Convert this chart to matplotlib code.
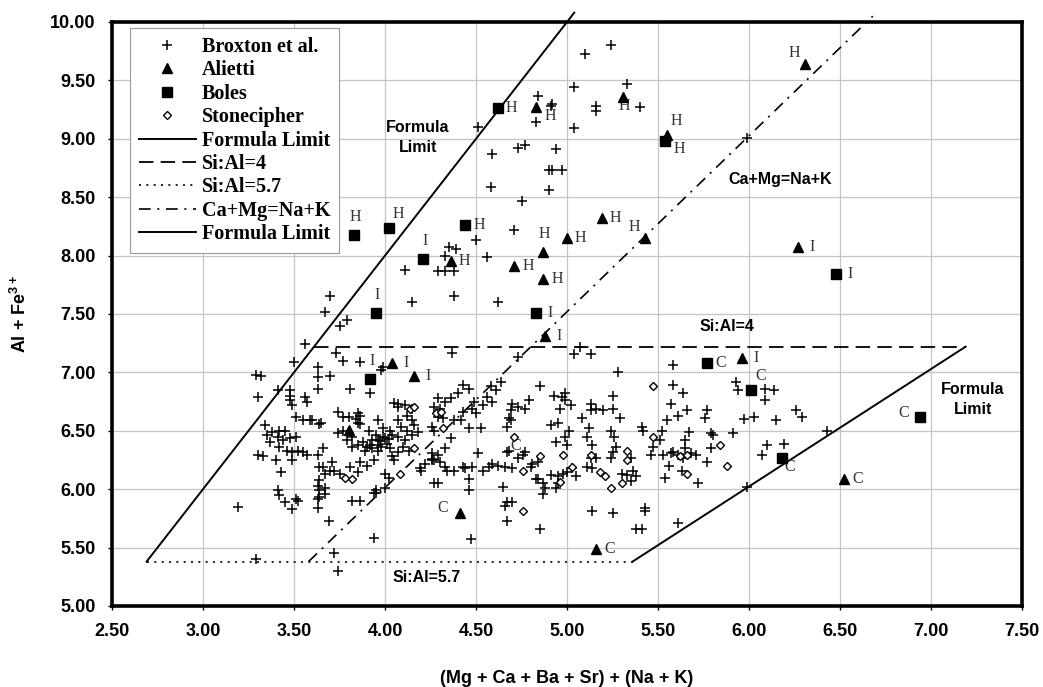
import matplotlib
matplotlib.use("Agg")
import matplotlib.pyplot as plt
from matplotlib.lines import Line2D

# ---- data ----
broxton = [
    # upper part
    (5.24, 9.80), (5.10, 9.73), (5.04, 9.44), (5.33, 9.47), (4.84, 9.37), (4.92, 9.30), (4.91, 9.28),
    (5.16, 9.28), (5.16, 9.24), (5.40, 9.27), (4.83, 9.14), (5.04, 9.09), (4.51, 9.10), (4.59, 8.87),
    (4.73, 8.92), (4.77, 8.95), (4.94, 8.91), (4.90, 8.73), (4.92, 8.73), (4.97, 8.73), (4.58, 8.59),
    (4.90, 8.56), (4.75, 8.47), (4.71, 8.22), (4.50, 8.13), (4.35, 8.07), (4.39, 8.06), (4.33, 8.00),
    (4.56, 7.99), (4.11, 7.88), (4.29, 7.87), (4.33, 7.87), (4.38, 7.87), (4.15, 7.60), (4.38, 7.65),
    (4.62, 7.60), (3.70, 7.65), (3.67, 7.52), (3.75, 7.40), (3.79, 7.45), (3.56, 7.24), (5.99, 9.01),
    # around Si:Al=4
    (3.73, 7.17), (3.77, 7.10), (3.86, 7.09), (3.50, 7.09), (3.29, 6.98), (3.32, 6.97), (3.30, 6.79),
    (3.63, 7.05), (3.63, 6.96), (3.70, 6.97), (3.63, 6.86), (3.81, 6.86), (3.92, 6.82), (3.41, 6.85),
    (3.48, 6.85), (3.48, 6.80), (3.48, 6.76), (3.49, 6.72), (3.56, 6.79), (3.57, 6.75), (3.98, 7.02),
    (3.99, 7.05), (4.37, 7.17), (4.73, 7.13), (5.07, 7.22), (5.04, 7.16), (5.13, 7.16), (5.28, 7.00),
    (5.58, 7.06), (4.85, 6.88),
    # left cluster
    (3.74, 6.66), (3.77, 6.62), (3.80, 6.62), (3.51, 6.62), (3.59, 6.59), (3.65, 6.57), (3.84, 6.60),
    (3.86, 6.63), (3.34, 6.55), (3.38, 6.49), (3.42, 6.50), (3.45, 6.50), (3.35, 6.46), (3.37, 6.40),
    (3.41, 6.45), (3.44, 6.42), (3.48, 6.44), (3.51, 6.45), (3.42, 6.36), (3.46, 6.33), (3.49, 6.32),
    (3.30, 6.29), (3.33, 6.28), (3.40, 6.25), (3.49, 6.25), (3.43, 6.15), (3.52, 6.33), (3.55, 6.32),
    (3.57, 6.29), (3.63, 6.29), (3.66, 6.35), (3.64, 6.19), (3.67, 6.13), (3.71, 6.23), (3.72, 6.16),
    (3.75, 6.13), (3.81, 6.19), (3.85, 6.15), (3.86, 6.23), (3.90, 6.20), (3.94, 6.25), (3.41, 5.99),
    (3.42, 5.95), (3.45, 5.89), (3.51, 5.92), (3.52, 5.90), (3.49, 5.83), (3.19, 5.85), (3.63, 6.03),
    (3.64, 5.99), (3.67, 5.96), (3.63, 5.92), (3.63, 5.84), (3.69, 5.73), (3.82, 5.90), (3.86, 5.90),
    (3.94, 5.97), (3.95, 5.99), (3.94, 5.58), (3.29, 5.40), (3.72, 5.45), (3.74, 5.30), (3.79, 6.42),
    (3.82, 6.36), (3.85, 6.38), (3.90, 6.36), (3.93, 6.42), (3.96, 6.38), (3.99, 6.45), (3.74, 6.48),
    (3.77, 6.50), (3.82, 6.45), (3.85, 6.65), (3.85, 6.57), (3.86, 6.56), (3.96, 6.59), (3.99, 6.52),
    (4.03, 6.50), (4.05, 6.74), (4.07, 6.70), (3.55, 6.59), (3.60, 6.59), (3.64, 6.56), (3.66, 6.19),
    (3.70, 6.16), (3.64, 6.08), (3.67, 6.01), (3.64, 5.93),
    # centre cluster
    (4.07, 6.73), (4.11, 6.72), (4.15, 6.69), (4.12, 6.63), (4.15, 6.59), (4.16, 6.55), (4.07, 6.59),
    (4.09, 6.53), (4.12, 6.50), (4.04, 6.46), (4.07, 6.45), (4.11, 6.42), (4.15, 6.46), (4.18, 6.49),
    (3.91, 6.50), (3.95, 6.46), (3.96, 6.42), (4.00, 6.44), (4.01, 6.39), (4.03, 6.35), (3.93, 6.35),
    (3.96, 6.33), (3.98, 6.36), (4.04, 6.28), (4.07, 6.32), (4.05, 6.25), (4.00, 6.13), (4.02, 6.10),
    (4.19, 6.18), (4.22, 6.22), (3.95, 5.97), (4.00, 6.01), (4.26, 6.31), (4.26, 6.25), (3.88, 6.40),
    (3.92, 6.38), (3.97, 6.41), (4.02, 6.43), (3.89, 6.33), (4.10, 6.36), (4.13, 6.33),
    (4.43, 6.89), (4.46, 6.86), (4.64, 6.92), (4.61, 6.85), (4.58, 6.88), (4.40, 6.82), (4.36, 6.78),
    (4.33, 6.75), (4.29, 6.78), (4.27, 6.70), (4.30, 6.69), (4.49, 6.75), (4.48, 6.69), (4.50, 6.65),
    (4.43, 6.66), (4.42, 6.59), (4.54, 6.72), (4.59, 6.75), (4.56, 6.79), (4.38, 6.59), (4.29, 6.62),
    (4.32, 6.61), (4.46, 6.52), (4.53, 6.52), (4.26, 6.53), (4.27, 6.50), (4.36, 6.44), (4.33, 6.35),
    (4.29, 6.29), (4.27, 6.25), (4.30, 6.23), (4.34, 6.16), (4.38, 6.16), (4.44, 6.18), (4.48, 6.19),
    (4.27, 6.05), (4.46, 6.09), (4.46, 5.99), (4.51, 6.31), (4.54, 6.16), (4.59, 6.22), (4.62, 6.20),
    (4.66, 6.19), (4.70, 6.18), (4.69, 6.68), (4.70, 6.73), (4.73, 6.70), (4.77, 6.69), (4.79, 6.76),
    (4.68, 6.61), (4.69, 6.59), (4.67, 6.53), (4.67, 6.32), (4.68, 6.33), (4.73, 6.27), (4.76, 6.29),
    (4.77, 6.32), (4.80, 6.19), (4.81, 6.22), (4.84, 6.23), (4.84, 6.09), (4.87, 6.05), (4.88, 6.01),
    (4.87, 5.96), (4.83, 6.09), (4.91, 6.12), (4.95, 6.11), (4.95, 6.05), (4.94, 6.01), (4.98, 6.13),
    (5.00, 6.15), (5.03, 6.18), (5.05, 6.11), (5.11, 6.19), (5.14, 6.18), (4.65, 6.02), (4.67, 5.89),
    (4.70, 5.89), (4.66, 5.86), (4.67, 5.73), (4.85, 5.66), (4.47, 5.57), (5.14, 5.81), (5.25, 5.80),
    (4.93, 6.80), (4.97, 6.79), (4.99, 6.82), (4.99, 6.76), (5.02, 6.72), (4.96, 6.69), (4.95, 6.57),
    (4.91, 6.55), (5.01, 6.50), (4.99, 6.45), (5.00, 6.38), (4.94, 6.40), (5.25, 6.80), (5.13, 6.73),
    (5.13, 6.68), (5.16, 6.69), (5.20, 6.68), (5.25, 6.69), (5.29, 6.61), (5.08, 6.61), (5.12, 6.52),
    (5.11, 6.45), (5.14, 6.38), (5.13, 6.27), (5.16, 6.27), (5.24, 6.50), (5.26, 6.45), (5.27, 6.36),
    (5.25, 6.32), (5.24, 6.27), (5.35, 6.27), (5.36, 6.16), (5.35, 6.07), (5.30, 6.13), (5.33, 6.12),
    (5.38, 5.66), (4.20, 6.16), (4.26, 6.26), (4.33, 6.19), (4.43, 6.19), (4.57, 6.19), (4.29, 6.05),
    # right cluster
    (5.58, 6.89), (5.64, 6.82), (5.57, 6.73), (5.61, 6.63), (5.66, 6.68), (5.55, 6.59), (5.77, 6.68),
    (5.76, 6.61), (5.52, 6.50), (5.51, 6.42), (5.47, 6.36), (5.46, 6.29), (5.41, 6.53), (5.42, 6.50),
    (5.67, 6.49), (5.65, 6.42), (5.65, 6.35), (5.58, 6.32), (5.79, 6.48), (5.80, 6.46), (5.79, 6.35),
    (5.91, 6.48), (5.93, 6.92), (5.94, 6.85), (6.09, 6.86), (6.14, 6.85), (6.09, 6.76), (5.97, 6.60),
    (6.03, 6.62), (6.15, 6.59), (6.26, 6.68), (6.29, 6.62), (6.43, 6.50), (6.10, 6.38), (6.19, 6.39),
    (6.07, 6.29), (5.53, 6.29), (5.57, 6.31), (5.61, 6.29), (5.64, 6.27), (5.68, 6.31), (5.71, 6.29),
    (5.77, 6.23), (5.56, 6.20), (5.63, 6.16), (5.54, 6.10), (5.72, 6.05), (5.38, 6.11), (5.43, 5.84),
    (5.43, 5.81), (5.41, 5.66), (5.61, 5.71), (5.99, 6.02),
]

alietti_x = [4.83, 5.31, 6.31, 5.55, 4.36, 4.71, 4.87, 4.87, 5.00, 5.19, 5.43, 6.27, 4.88, 4.04,
             4.16, 3.80, 5.96, 4.41, 5.16, 6.52]
alietti_y = [9.27, 9.36, 9.64, 9.03, 7.95, 7.91, 8.03, 7.80, 8.15, 8.32, 8.15, 8.07, 7.31, 7.08,
             6.97, 6.51, 7.12, 5.80, 5.49, 6.09]
alietti_tag = ["H", "H", "H", "H", "H", "H", "H", "H", "H", "H", "H", "I", "I", "I",
               "I", "", "I", "C", "C", "C"]
alietti_pos = ["rd", "d", "ul", "ur", "r", "r", "u", "r", "r", "r", "ul", "r", "r", "r",
               "r", "r", "r", "l", "r", "r"]

boles_x = [4.62, 5.54, 3.83, 4.02, 4.44, 4.21, 3.95, 4.83, 6.48, 3.92, 5.77, 6.01, 6.18, 6.94]
boles_y = [9.26, 8.98, 8.18, 8.24, 8.26, 7.97, 7.51, 7.51, 7.84, 6.94, 7.08, 6.85, 6.27, 6.62]
boles_tag = ["H", "H", "H", "H", "H", "I", "I", "I", "I", "I", "C", "C", "C", "C"]
boles_pos = ["r", "rd", "u", "ur", "r", "u", "u", "r", "r", "u", "r", "ur", "dr", "l"]

stone_x = [3.78, 3.82, 4.08, 4.16, 4.32, 4.28, 4.31, 4.14, 4.16, 4.71, 4.76, 4.85, 4.98, 4.96,
           5.03, 5.18, 5.21, 5.24, 5.30, 5.13, 5.33, 5.33, 4.76, 5.47, 5.47, 5.62, 5.66, 5.66,
           5.84, 5.88]
stone_y = [6.10, 6.09, 6.13, 6.35, 6.52, 6.65, 6.66, 6.69, 6.70, 6.45, 6.16, 6.28, 6.29, 6.06,
           6.19, 6.15, 6.11, 6.01, 6.05, 6.29, 6.33, 6.25, 5.81, 6.88, 6.45, 6.28, 6.29, 6.13,
           6.38, 6.20]
stone_tag = [""] * 9 + ["C"] + [""] * 20
stone_pos = ["d"] * 30

# boundary lines (x, y end points)
formula_left_x, formula_left_y = [2.69, 5.04], [5.38, 10.08]
formula_right_x, formula_right_y = [5.36, 7.19], [5.38, 7.22]
sial4_x, sial4_y = [3.61, 7.19], [7.22, 7.22]
sial57_x, sial57_y = [2.69, 5.36], [5.38, 5.38]
camg_x, camg_y = [3.58, 6.68], [5.38, 10.05]

x_ticks = [2.5, 3.0, 3.5, 4.0, 4.5, 5.0, 5.5, 6.0, 6.5, 7.0, 7.5]
y_ticks = [5.0, 5.5, 6.0, 6.5, 7.0, 7.5, 8.0, 8.5, 9.0, 9.5, 10.0]

# tag offsets in points
offsets = {"r": (10, 0), "l": (-12, 3), "u": (1, 13), "d": (1, -7), "ul": (-8, 8),
           "ur": (7, 10), "rd": (10, -6), "dr": (6, -7)}

plt.rcParams["font.family"] = ["Liberation Sans", "DejaVu Sans"]
plt.rcParams["mathtext.fontset"] = "custom"
plt.rcParams["mathtext.bf"] = "Liberation Sans:bold"
plt.rcParams["mathtext.rm"] = "Liberation Sans:bold"

fig = plt.figure(figsize=(10.43, 6.87), dpi=100)
ax = fig.add_axes([112 / 1043, 1 - 606 / 687, 910 / 1043, 584 / 687])

ax.set_xlim(2.5, 7.5)
ax.set_ylim(5.0, 10.0)
ax.set_xticks(x_ticks)
ax.set_yticks(y_ticks)
ax.set_xticklabels([f"{v:.2f}" for v in x_ticks], fontweight="bold", fontsize=13)
ax.set_yticklabels([f"{v:.2f}" for v in y_ticks], fontweight="bold", fontsize=13)
ax.tick_params(length=3, width=1, pad=9)
ax.grid(True, color="#c4c4c8", linewidth=0.9)
ax.set_axisbelow(True)
for s in ax.spines.values():
    s.set_linewidth(2.6)

bx = [p[0] for p in broxton]
by = [p[1] for p in broxton]
ax.plot(bx, by, ls="none", marker="+", ms=7, mew=1.1, color="black", zorder=3)
ax.plot(alietti_x, alietti_y, ls="none", marker="^", ms=6.5, color="black", zorder=4)
ax.plot(boles_x, boles_y, ls="none", marker="s", ms=6.5, color="black", zorder=4)
ax.plot(stone_x, stone_y, ls="none", marker="D", ms=4.5, mew=1.0, mfc="white", mec="black", zorder=4)

ax.plot(formula_left_x, formula_left_y, color="black", lw=1.4, clip_on=False, zorder=2)
ax.plot(formula_right_x, formula_right_y, color="black", lw=1.4, zorder=2)
ax.plot(sial4_x, sial4_y, color="black", lw=1.3, dashes=(8, 4), zorder=2)
ax.plot(sial57_x, sial57_y, color="black", lw=1.2, dashes=(1.2, 3.2), zorder=2)
ax.plot(camg_x, camg_y, color="black", lw=1.2, dashes=(7, 4, 1.2, 4), clip_on=False, zorder=2)

# H / I / C tags
for xs, ys, tags, pos in [(alietti_x, alietti_y, alietti_tag, alietti_pos),
                          (boles_x, boles_y, boles_tag, boles_pos),
                          (stone_x, stone_y, stone_tag, stone_pos)]:
    for x, y, t, p in zip(xs, ys, tags, pos):
        if t:
            ax.annotate(t, (x, y), xytext=offsets[p], textcoords="offset points",
                        ha="center", va="center", fontsize=11.5, color="#333333",
                        family="Liberation Serif")

# line annotations
note = dict(fontweight="bold", fontsize=11.5, ha="center", va="center", linespacing=1.45)
ax.text(4.18, 9.01, "Formula\nLimit", **note)
ax.text(7.23, 6.77, "Formula\nLimit", **note)
ax.text(6.17, 8.65, "Ca+Mg=Na+K", **note)
ax.text(5.88, 7.39, "Si:Al=4", **note)
ax.text(4.23, 5.24, "Si:Al=5.7", **note)

ax.set_xlabel("(Mg + Ca + Ba + Sr) + (Na + K)", fontweight="bold", fontsize=13, labelpad=22)
ax.set_ylabel(r"Al + Fe$^{3+}$", fontweight="bold", fontsize=13, labelpad=14)

handles = [
    Line2D([], [], ls="none", marker="+", ms=7, mew=1.1, color="black"),
    Line2D([], [], ls="none", marker="^", ms=6.5, color="black"),
    Line2D([], [], ls="none", marker="s", ms=6.5, color="black"),
    Line2D([], [], ls="none", marker="D", ms=4.5, mfc="white", mec="black"),
    Line2D([], [], color="black", lw=1.4),
    Line2D([], [], color="black", lw=1.3, dashes=(8, 4)),
    Line2D([], [], color="black", lw=1.2, dashes=(1.2, 3.2)),
    Line2D([], [], color="black", lw=1.2, dashes=(7, 4, 1.2, 4)),
    Line2D([], [], color="black", lw=1.4),
]
labels = ["Broxton et al.", "Alietti", "Boles", "Stonecipher", "Formula Limit",
          "Si:Al=4", "Si:Al=5.7", "Ca+Mg=Na+K", "Formula Limit"]
leg = ax.legend(handles, labels, loc="upper left", bbox_to_anchor=(0.02, 0.99), borderaxespad=0,
                prop={"family": "Liberation Serif", "weight": "bold", "size": 14.5},
                fancybox=False, framealpha=1, edgecolor="#999999", handlelength=2.8,
                handletextpad=0.3, labelspacing=0.17, borderpad=0.45)
leg.get_frame().set_linewidth(0.8)

fig.savefig("out.png", dpi=100)
